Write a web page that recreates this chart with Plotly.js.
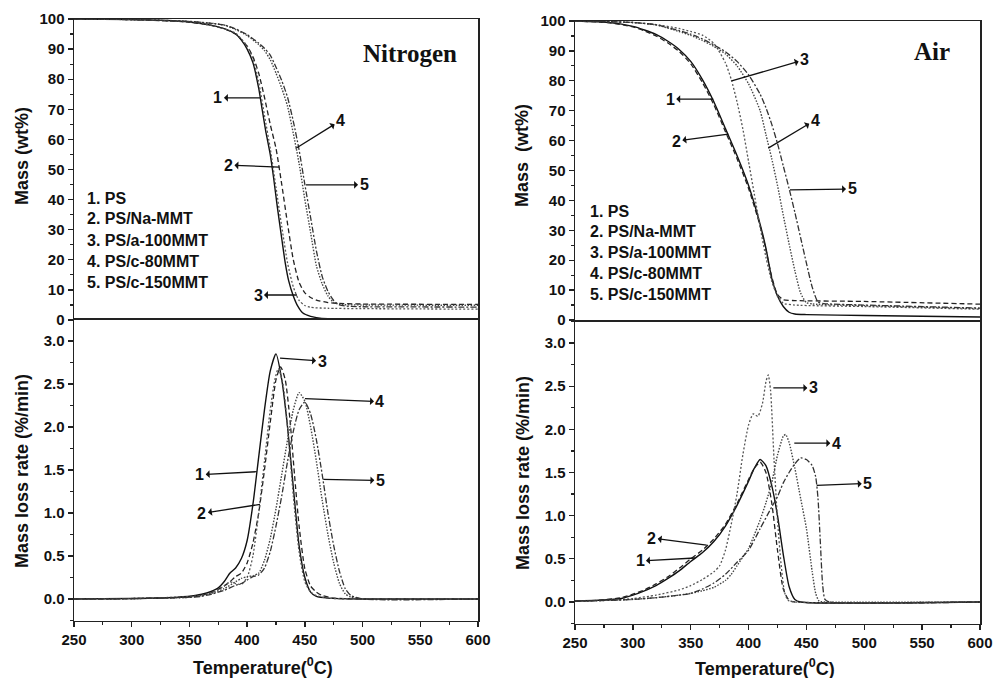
<!DOCTYPE html>
<html>
<head>
<meta charset="utf-8">
<script src="https://cdn.plot.ly/plotly-3.0.1.min.js"></script>
<style>html,body{margin:0;padding:0;background:#fff;}#chart{width:995px;height:678px;}</style>
</head>
<body>
<div id="chart"></div>
<script>
// ---------- series names ----------
const seriesNames = ["1. PS", "2. PS/Na-MMT", "3. PS/a-100MMT", "4. PS/c-80MMT", "5. PS/c-150MMT"];

// ---------- Nitrogen : mass (wt%) ----------
const n1T = [250,300,330,350,360,370,380,390,395,400,405,410,413,416,420,423,426,430,433,436,440,444,448,455,460,470,480,500,600];
const n1M = [100,99.8,99.5,99,98.5,97.8,96.8,95,93,90,85.5,77,70,63,55,47,38,27,19,13,8,4.5,2.4,1.2,0.8,0.4,0.3,0.2,0.2];
const n2T = [250,300,350,370,380,390,400,405,410,415,420,425,430,435,440,445,450,455,460,470,480,500,600];
const n2M = [100,99.8,99,97.8,96.8,95,91,87.5,82,74,65,57,45,32,20,12.5,9,7.5,6.6,5.8,5.5,5.3,5.2];
const n3T = [250,300,350,370,380,390,400,405,410,415,420,425,430,435,440,445,450,455,470,600];
const n3M = [100,99.8,99,97.8,96.8,95.3,91,87,79,68,57,44,31,19,11,6.5,4.8,4.2,3.9,3.6];
const n4T = [250,300,350,380,390,400,410,415,420,425,430,435,440,445,450,455,460,465,470,475,480,500,600];
const n4M = [100,99.8,99.2,98,96.5,94.5,91.5,89.5,86.5,82,77,71,62,52,40,29,18,12,8,5.8,5.2,5,4.9];
const n5T = [250,300,350,380,390,400,410,415,420,425,430,435,440,445,450,455,460,465,470,475,480,490,500,600];
const n5M = [100,99.8,99.2,98,96.7,94.8,92,90.3,88,84,79.5,74,66,56.5,45,34,23,14.5,9.5,6.5,5,4.5,4.4,4.3];

// ---------- Nitrogen : mass loss rate (%/min) ----------
const d1T = [250,300,340,355,365,375,380,385,390,395,400,405,410,415,420,425,430,435,440,445,450,455,460,470,500,600];
const d1R = [0,0.005,0.02,0.04,0.07,0.13,0.2,0.3,0.36,0.47,0.68,1.1,1.65,2.2,2.65,2.85,2.55,2.0,1.3,0.62,0.25,0.08,0.03,0.01,0,0];
const d2T = [250,300,355,370,380,385,390,395,400,405,410,415,420,425,429,433,437,441,445,450,455,460,465,475,500,600];
const d2R = [0,0.005,0.03,0.08,0.15,0.2,0.26,0.3,0.42,0.65,1.0,1.5,2.05,2.55,2.7,2.55,2.1,1.45,0.85,0.35,0.15,0.08,0.04,0.01,0,0];
const d3T = [250,300,360,370,380,385,390,395,400,405,410,415,420,424,427,431,435,440,445,450,455,460,470,500,600];
const d3R = [0,0.005,0.04,0.08,0.15,0.2,0.18,0.17,0.25,0.5,1.0,1.6,2.2,2.55,2.68,2.5,2.0,1.2,0.55,0.2,0.08,0.04,0.01,0,0];
const d4T = [250,300,350,360,370,380,390,395,400,405,410,415,420,425,430,435,440,445,450,455,460,465,470,475,480,485,490,500,600];
const d4R = [0,0.005,0.02,0.04,0.07,0.12,0.2,0.24,0.26,0.27,0.3,0.45,0.7,1.05,1.45,1.85,2.2,2.4,2.3,2.0,1.6,1.15,0.75,0.42,0.18,0.06,0.02,0,0];
const d5T = [250,300,350,360,370,380,390,395,400,405,410,415,420,425,430,435,440,445,450,455,460,465,470,475,480,485,490,500,600];
const d5R = [0,0.005,0.02,0.03,0.06,0.1,0.16,0.18,0.22,0.26,0.28,0.36,0.55,0.85,1.2,1.6,1.95,2.2,2.29,2.15,1.85,1.45,1.0,0.62,0.32,0.12,0.04,0,0];

// ---------- Air : mass (wt%) ----------
const a1T = [250,280,300,310,320,330,340,350,360,370,380,390,400,410,415,420,425,430,435,440,450,500,600];
const a1M = [100,99.5,98.2,97,95.5,93.3,90.5,86.5,80.5,73,64,55,45,32,24,14,8,4.5,2.6,2,1.8,1.5,1.0];
const a2T = [250,280,300,310,320,330,340,350,360,370,380,390,400,410,415,420,425,430,440,500,600];
const a2M = [100,99.4,98,96.7,95,92.7,89.8,85.7,79.5,72,63,54,44,31.5,23.5,14.5,8.5,6.8,6.5,6.2,5.3];
const a3T = [250,300,320,340,350,360,370,380,385,390,395,400,405,410,415,420,425,430,440,500,600];
const a3M = [100,99.5,98.8,97.5,96.5,95.3,92.5,86,80.5,73,64,53,42,31,21,13,8,5.6,5,4.5,3.6];
const a4T = [250,300,320,340,350,360,370,380,390,400,410,415,420,425,430,435,440,445,450,455,460,500,600];
const a4M = [100,99.5,98.7,96.5,95.2,93.5,91.5,89,85,79,70,62,54,45,35,25.5,16.5,9,5.8,5.4,5.2,4.8,3.8];
const a5T = [250,300,320,340,350,360,370,380,390,400,410,415,420,425,430,435,440,445,450,455,460,465,500,600];
const a5M = [100,99.5,98.7,96.8,95.6,94,92,89.7,86.5,82,75.5,71,65.5,59,51.5,44,36,27.5,19,11,6,5.5,5,4];

// ---------- Air : mass loss rate (%/min) ----------
const e1T = [250,270,290,300,310,320,330,340,350,360,370,380,390,400,405,410,415,420,425,430,435,440,445,600];
const e1R = [0.01,0.02,0.04,0.08,0.13,0.19,0.27,0.36,0.47,0.57,0.7,0.88,1.12,1.4,1.55,1.65,1.58,1.35,1.0,0.55,0.18,0.03,0,0];
const e2T = [250,270,290,300,310,320,330,340,350,360,370,380,390,400,405,410,415,420,425,430,435,440,600];
const e2R = [0.01,0.02,0.05,0.09,0.14,0.21,0.29,0.39,0.5,0.6,0.73,0.9,1.14,1.42,1.55,1.62,1.5,1.15,0.6,0.15,0.02,0,0];
const e3T = [250,280,300,320,340,350,360,370,375,380,385,390,395,400,404,408,412,415,417,419,422,425,428,431,434,440,600];
const e3R = [0.01,0.02,0.04,0.08,0.14,0.19,0.26,0.35,0.42,0.6,0.9,1.25,1.7,2.05,2.18,2.15,2.3,2.55,2.63,2.45,1.65,0.95,0.45,0.12,0.02,0,0];
const e4T = [250,280,300,320,340,350,360,370,380,385,390,395,400,405,410,415,420,425,430,432,435,440,445,450,455,458,461,470,600];
const e4R = [0.01,0.02,0.03,0.05,0.08,0.1,0.13,0.17,0.25,0.32,0.42,0.52,0.62,0.78,0.95,1.15,1.38,1.7,1.92,1.94,1.85,1.55,1.2,0.85,0.35,0.1,0.01,0,0];
const e5T = [250,280,300,320,340,350,360,370,380,390,400,410,420,425,430,435,440,445,450,455,458,460,462,464,466,470,600];
const e5R = [0.01,0.02,0.03,0.05,0.08,0.1,0.15,0.22,0.32,0.46,0.6,0.85,1.1,1.22,1.38,1.5,1.6,1.67,1.65,1.58,1.45,1.2,0.7,0.2,0.03,0,0];

// ---------- tick values ----------
const massTicks = [0,10,20,30,40,50,60,70,80,90,100];
const rateTicks = [0,0.5,1.0,1.5,2.0,2.5,3.0];
const tempTicks = [250,300,350,400,450,500,550,600];

// ---------- styles ----------
const styles = [
  {color:'#111', dash:'solid', width:1.4},
  {color:'#222', dash:'5px,3px', width:1.3},
  {color:'#555', dash:'2px,2px', width:1.3},
  {color:'#444', dash:'1.5px,1.5px', width:1.4},
  {color:'#333', dash:'6px,2px,2px,2px', width:1.3}
];

function mk(T, V, i, xa, ya) {
  return {x:T, y:V, xaxis:xa, yaxis:ya, type:'scatter', mode:'lines', name:seriesNames[i],
    line:{color:styles[i].color, dash:styles[i].dash, width:styles[i].width, shape:'spline', smoothing:0.6},
    showlegend:false, hoverinfo:'skip'};
}

const traces = [
  mk(n1T,n1M,0,'x','y'), mk(n2T,n2M,1,'x','y'), mk(n3T,n3M,2,'x','y'), mk(n4T,n4M,3,'x','y'), mk(n5T,n5M,4,'x','y'),
  mk(d1T,d1R,0,'x2','y2'), mk(d2T,d2R,1,'x2','y2'), mk(d3T,d3R,2,'x2','y2'), mk(d4T,d4R,3,'x2','y2'), mk(d5T,d5R,4,'x2','y2'),
  mk(a1T,a1M,0,'x3','y3'), mk(a2T,a2M,1,'x3','y3'), mk(a3T,a3M,2,'x3','y3'), mk(a4T,a4M,3,'x3','y3'), mk(a5T,a5M,4,'x3','y3'),
  mk(e1T,e1R,0,'x4','y4'), mk(e2T,e2R,1,'x4','y4'), mk(e3T,e3R,2,'x4','y4'), mk(e4T,e4R,3,'x4','y4'), mk(e5T,e5R,4,'x4','y4')
];

const W = 995, H = 678;
const SANS = 'Liberation Sans, Arial, sans-serif';
const SERIF = 'Liberation Serif, Times New Roman, serif';
const tickFont = {family:SANS, size:15, color:'#111', weight:'bold'};
const LINE = {showline:true, mirror:true, linecolor:'#222', linewidth:1.5, showgrid:false, zeroline:false};

function px(x){return x/W;}
function py(y){return 1 - y/H;}

function xTop(dom, anchor){
  return Object.assign({}, LINE, {domain:dom, anchor:anchor, range:[250,600], showticklabels:false, ticks:''});
}
function xBot(dom, anchor){
  return Object.assign({}, LINE, {domain:dom, anchor:anchor, range:[250,600], tickvals:tempTicks, ticks:'outside', ticklen:5, tickwidth:1.3, tickcolor:'#222',
    minor:{ticks:'outside', ticklen:3, dtick:25, tick0:250, tickcolor:'#222', tickwidth:1.2}, tickfont:tickFont});
}
function yMass(dom, anchor){
  return Object.assign({}, LINE, {domain:dom, anchor:anchor, range:[0,100], tickvals:massTicks, ticks:'outside', ticklen:5, tickwidth:1.3, tickcolor:'#222',
    minor:{ticks:'outside', ticklen:3, dtick:5, tick0:0, tickcolor:'#222', tickwidth:1.2}, tickfont:tickFont});
}
function yRate(dom, anchor){
  return Object.assign({}, LINE, {domain:dom, anchor:anchor, range:[-0.25,3.25], tickvals:rateTicks, tickformat:'.1f', ticks:'outside', ticklen:5, tickwidth:1.3, tickcolor:'#222',
    minor:{ticks:'outside', ticklen:3, dtick:0.25, tick0:0, tickcolor:'#222', tickwidth:1.2}, tickfont:tickFont});
}

const leftX = [px(74), px(478)];
const rightX = [px(575), px(980)];

const annotations = [];
function txt(x, y, text, opts){
  annotations.push(Object.assign({xref:'paper', yref:'paper', x:px(x), y:py(y), text:text, showarrow:false,
    font:{family:SANS, size:16, color:'#111', weight:'bold'}, xanchor:'center', yanchor:'middle'}, opts||{}));
}
function arr(xr, yr, x, y, ax, ay, label){
  annotations.push({xref:xr, yref:yr, x:x, y:y, ax:ax, ay:ay, text:label, showarrow:true, arrowside:'start',
    arrowhead:2, arrowsize:1, arrowwidth:1.3, arrowcolor:'#111', startstandoff:0, standoff:0,
    font:{family:SANS, size:16, color:'#111', weight:'bold'}});
}

// panel titles
txt(410, 53, 'Nitrogen', {font:{family:SERIF, size:25, color:'#111', weight:'bold'}});
txt(932, 52, 'Air', {font:{family:SERIF, size:25, color:'#111', weight:'bold'}});

// legend text lists
const legLeftY = [199, 219, 240, 261, 282];
const legRightY = [212, 232, 252, 273, 294];
seriesNames.forEach((s, i) => {
  txt(85, legLeftY[i], s, {xanchor:'left'});
  txt(588, legRightY[i], s, {xanchor:'left'});
});

// axis titles
txt(22, 156, 'Mass (wt%)', {textangle:-90, font:{family:SANS, size:18, color:'#111', weight:'bold'}});
txt(522, 156, 'Mass\u00a0\u00a0(wt%)', {textangle:-90, font:{family:SANS, size:18, color:'#111', weight:'bold'}});
txt(22, 471, 'Mass loss rate (%/min)', {textangle:-90, font:{family:SANS, size:18, color:'#111', weight:'bold'}});
txt(523, 473, 'Mass loss rate (%/min)', {textangle:-90, font:{family:SANS, size:18, color:'#111', weight:'bold'}});
txt(263, 666, 'Temperature(<sup>0</sup>C)', {font:{family:SANS, size:18, color:'#111', weight:'bold'}});
txt(765, 667, 'Temperature(<sup>0</sup>C)', {font:{family:SANS, size:18, color:'#111', weight:'bold'}});

// curve labels with arrows (arrow head toward label)
arr('x','y', 412, 73.8, -43, 0, '1');
arr('x','y', 428, 50.8, -51, -2, '2');
arr('x','y', 443.2, 8.3, -39, 0, '3');
arr('x','y', 442, 57, 45, -28, '4');
arr('x','y', 451, 44.9, 58, 0, '5');

arr('x2','y2', 408.3, 1.48, -57, 3, '1');
arr('x2','y2', 411.1, 1.10, -58, 9, '2');
arr('x2','y2', 428.5, 2.80, 42, 3, '3');
arr('x2','y2', 450.1, 2.33, 75, 3, '4');
arr('x2','y2', 466, 1.39, 57, 1, '5');

arr('x3','y3', 369.5, 73.9, -43, 0, '1');
arr('x3','y3', 382.5, 62.2, -52, 7, '2');
arr('x3','y3', 385.4, 80.0, 73, -21, '3');
arr('x3','y3', 417, 57.5, 47, -28, '4');
arr('x3','y3', 435.8, 43.5, 62, -1, '5');

arr('x4','y4', 363.8, 0.66, -55, -7, '2');
arr('x4','y4', 353.7, 0.51, -55, 3, '1');
arr('x4','y4', 421.4, 2.48, 40, 0, '3');
arr('x4','y4', 439.5, 1.84, 42, 0, '4');
arr('x4','y4', 458.9, 1.35, 51, -2, '5');

const layout = {
  width:W, height:H, margin:{l:0, r:0, t:0, b:0},
  paper_bgcolor:'#fff', plot_bgcolor:'#fff', showlegend:false,
  font:{family:SANS, color:'#111'},
  xaxis: xTop(leftX, 'y'),
  yaxis: yMass([py(320), py(19)], 'x'),
  xaxis2: xBot(leftX, 'y2'),
  yaxis2: yRate([py(620.5), py(319.5)], 'x2'),
  xaxis3: xTop(rightX, 'y3'),
  yaxis3: yMass([py(320), py(21)], 'x3'),
  xaxis4: xBot(rightX, 'y4'),
  yaxis4: yRate([py(623.6), py(321.4)], 'x4'),
  annotations: annotations
};

Plotly.newPlot('chart', traces, layout, {staticPlot:true, displayModeBar:false});
</script>
</body>
</html>
